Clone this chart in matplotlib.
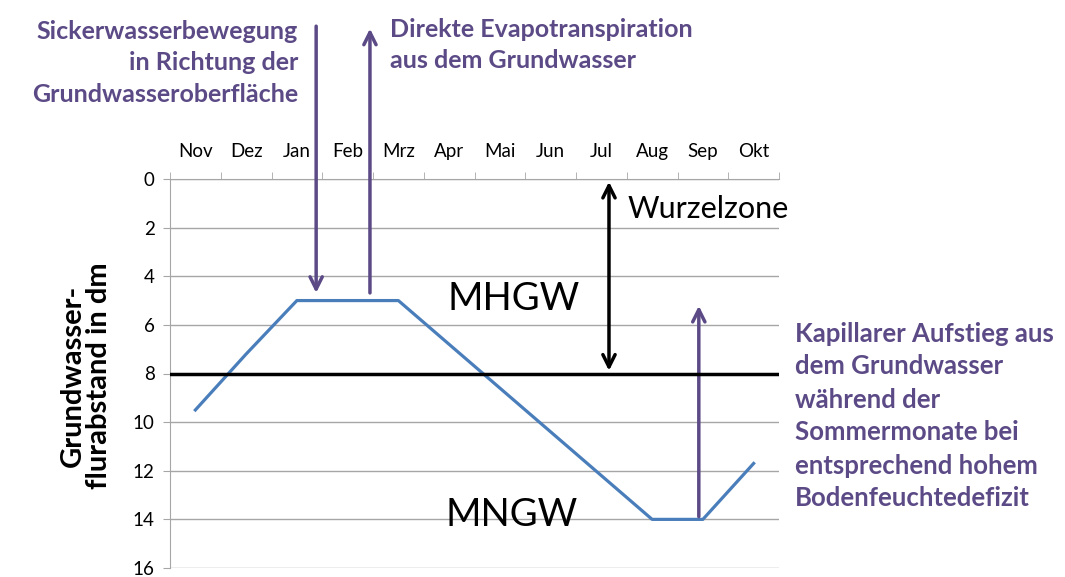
import numpy as np
import matplotlib.pyplot as plt

# Daten: Grundwasserflurabstand (dm) je Monat
monate = ['Nov', 'Dez', 'Jan', 'Feb', 'Mrz', 'Apr', 'Mai', 'Jun', 'Jul', 'Aug', 'Sep', 'Okt']
abstand = [9.5, 7.2, 5.0, 5.0, 5.0, 6.8, 8.6, 10.4, 12.2, 14.0, 14.0, 11.7]
wurzelzone_grenze = 8
y_ticks = [0, 2, 4, 6, 8, 10, 12, 14, 16]

lila = '#5b4a86'
blau = '#4a7ebb'
plt.rcParams['font.family'] = ['Lato', 'DejaVu Sans']

W, H = 1065, 577
fig = plt.figure(figsize=(W / 100, H / 100), dpi=100)
ax = fig.add_axes([170 / W, 1 - 568 / H, (779 - 170) / W, (568 - 179) / H])

x = np.arange(len(monate))
ax.plot(x, abstand, color=blau, lw=2.3, zorder=3)
ax.axhline(wurzelzone_grenze, color='black', lw=2.5, zorder=4)

ax.set_xlim(-0.5, 11.5)
ax.set_ylim(16, 0)
ax.set_yticks(y_ticks)
ax.yaxis.grid(True, color='#a6a6a6', lw=1)
ax.set_axisbelow(True)

ax.xaxis.tick_top()
ax.set_xticks(x)
ax.set_xticklabels(monate, fontsize=13.5)
ax.set_xticks(np.arange(-0.5, 12, 1), minor=True)
ax.tick_params(axis='x', which='major', length=0, pad=14)
ax.tick_params(axis='x', which='minor', length=5, color='#a6a6a6', direction='out')
ax.tick_params(axis='y', length=5, color='#a6a6a6', labelsize=13.5, pad=6)
for s in ['right', 'bottom']:
    ax.spines[s].set_visible(False)
for s in ['left', 'top']:
    ax.spines[s].set_color('#a6a6a6')

fig.text(86 / W, 1 - 376 / H, 'Grundwasser-\nflurabstand in dm', fontsize=21,
         fontweight='bold', rotation=90, ha='center', va='center', linespacing=1.0)

# Pfeile
pfeil = dict(arrowstyle='->', lw=2.5, mutation_scale=22)
ax.annotate('', xy=(2.38, 4.8), xytext=(2.38, -6.4),
            arrowprops=dict(pfeil, color=lila), annotation_clip=False)
ax.annotate('', xy=(3.44, -6.3), xytext=(3.44, 4.8),
            arrowprops=dict(pfeil, color=lila), annotation_clip=False)
ax.annotate('', xy=(9.92, 5.1), xytext=(9.92, 14.0),
            arrowprops=dict(pfeil, color=lila), annotation_clip=False)
ax.annotate('', xy=(8.15, 0), xytext=(8.15, 8),
            arrowprops=dict(arrowstyle='<->', lw=2.5, mutation_scale=22, color='black'),
            annotation_clip=False)

ax.text(8.52, 1.25, 'Wurzelzone', fontsize=22, va='center', ha='left')
ax.text(4.96, 4.95, 'MHGW', fontsize=27.5, va='center', ha='left')
ax.text(4.93, 13.8, 'MNGW', fontsize=27.5, va='center', ha='left')

# Beschriftungen
fig.text(298 / W, 1 - 63 / H, 'Sickerwasserbewegung\nin Richtung der\nGrundwasseroberfläche',
         color=lila, fontsize=18, fontweight='bold', ha='right', va='center',
         linespacing=1.45)
fig.text(390 / W, 1 - 45 / H, 'Direkte Evapotranspiration\naus dem Grundwasser',
         color=lila, fontsize=18, fontweight='bold', ha='left', va='center',
         linespacing=1.45)
fig.text(795 / W, 1 - 416 / H,
         'Kapillarer Aufstieg aus\ndem Grundwasser\nwährend der\nSommermonate bei\n'
         'entsprechend hohem\nBodenfeuchtedefizit',
         color=lila, fontsize=18.5, fontweight='bold', ha='left', va='center',
         linespacing=1.45)

fig.savefig('out.png', dpi=100, facecolor='white')
